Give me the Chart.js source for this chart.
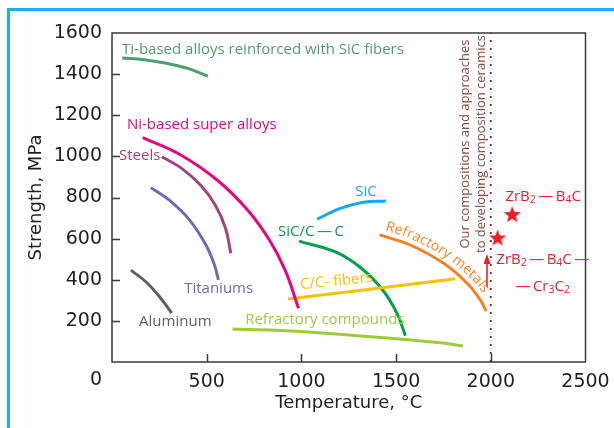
<!DOCTYPE html>
<html>
<head>
<meta charset="utf-8">
<script src="https://cdn.jsdelivr.net/npm/chart.js@4.4.1/dist/chart.umd.min.js"></script>
<style>
  html, body { margin: 0; padding: 0; background: #fff; }
  #wrap { position: relative; width: 614px; height: 428px; overflow: hidden; }
  #wrap canvas { position: absolute; left: 0; top: 0; }
  #frame {
    position: absolute; left: 7px; top: 8px; right: -10px; bottom: -10px;
    border-top: 3px solid #1cb0e6; border-left: 3px solid #1cb0e6;
    pointer-events: none;
  }
</style>
</head>
<body>
<div id="wrap">
  <canvas id="chart" width="614" height="428"></canvas>
  <div id="frame"></div>
</div>
<script>
// Axis ticks
const tempTicks = [0, 500, 1000, 1500, 2000, 2500];
const strengthTicks = [0, 200, 400, 600, 800, 1000, 1200, 1400, 1600];

// Strength (MPa) against temperature (°C) for each material class
const tiSicTemp = [54, 170, 280, 400, 506];
const tiSicStrength = [1478, 1470, 1454, 1428, 1391];

const niTemp = [162, 363, 555, 716, 831, 914, 985];
const niStrength = [1091, 1007, 885, 739, 593, 447, 261];

const steelTemp = [263, 366, 467, 545, 599, 627];
const steelStrength = [998, 943, 861, 764, 652, 529];

const titanTemp = [205, 301, 409, 496, 541, 562];
const titanStrength = [848, 788, 691, 569, 472, 399];

const aluTemp = [100, 180, 248, 315];
const aluStrength = [447, 389, 321, 238];

const refCompTemp = [636, 994, 1400, 1733, 1853];
const refCompStrength = [160, 148, 120, 94, 78];

const ccFiberTemp = [929, 1813];
const ccFiberStrength = [306, 405];

const sicCcTemp = [988, 1180, 1315, 1429, 1504, 1549];
const sicCcStrength = [588, 535, 457, 350, 238, 128];

const sicTemp = [1083, 1205, 1328, 1446];
const sicStrength = [695, 747, 777, 783];

const refMetTemp = [1413, 1575, 1751, 1875, 1945, 1975];
const refMetStrength = [618, 569, 480, 383, 301, 248];

// Proposed ZrB2-based ceramics
const zrbTemp = [2113, 2036];
const zrbStrength = [720, 606];

// Boundary of the composition-ceramics region and the arrow pointing into it
const boundaryTemp = [2000, 2000];
const boundaryStrength = [0, 1600];
const arrowTemp = [1980, 1980];
const arrowStrength = [365, 525];

const pts = (xs, ys) => xs.map((x, i) => ({ x, y: ys[i] }));

// filled five-point star used as the point marker
function makeStar(r, color) {
  const s = Math.ceil(r * 2 + 2);
  const c = document.createElement('canvas');
  c.width = s; c.height = s;
  const g = c.getContext('2d');
  g.fillStyle = color;
  g.beginPath();
  for (let i = 0; i < 10; i++) {
    const rad = i % 2 === 0 ? r : r * 0.42;
    const a = -Math.PI / 2 + i * Math.PI / 5;
    const px = s / 2 + rad * Math.cos(a), py = s / 2 + 1 + rad * Math.sin(a);
    i === 0 ? g.moveTo(px, py) : g.lineTo(px, py);
  }
  g.closePath();
  g.fill();
  return c;
}
const starImg = makeStar(9, '#ee1d25');

const curve = (label, xs, ys, color) => ({
  label, data: pts(xs, ys), borderColor: color, backgroundColor: color,
  borderWidth: 3, pointRadius: 0, tension: 0.4, fill: false
});

const datasets = [
  curve('Ti-based alloys reinforced with SiC fibers', tiSicTemp, tiSicStrength, '#4e9e71'),
  curve('Ni-based super alloys', niTemp, niStrength, '#e6057e'),
  curve('Steels', steelTemp, steelStrength, '#a3447f'),
  curve('Titaniums', titanTemp, titanStrength, '#6d6bb6'),
  curve('Aluminum', aluTemp, aluStrength, '#606060'),
  curve('Refractory compounds', refCompTemp, refCompStrength, '#9dcb3b'),
  curve('C/C- fibers', ccFiberTemp, ccFiberStrength, '#f8c20c'),
  curve('SiC/C-C', sicCcTemp, sicCcStrength, '#00a14e'),
  curve('SiC', sicTemp, sicStrength, '#16a9e4'),
  curve('Refractory metals', refMetTemp, refMetStrength, '#f5821f'),
  {
    label: 'boundary', data: pts(boundaryTemp, boundaryStrength),
    borderColor: '#4a4a4a', borderWidth: 2, borderDash: [2, 6], pointRadius: 0
  },
  {
    label: 'ZrB2', type: 'scatter', data: pts(zrbTemp, zrbStrength),
    pointStyle: starImg, pointRadius: 9, showLine: false
  }
];
const REF_METALS = 9;

const TEXT_FONT = '"Open Sans", "Noto Sans", sans-serif';
const AXIS_FONT = '"DejaVu Sans", sans-serif';
const DASH = '\u2009\u2014\u2009';

// annotation placement (data coordinates of the text anchor)
const notes = [
  { t: [['Ti-based alloys reinforced with SiC fibers']], x: 53, y: 1517, c: '#4e9e71' },
  { t: [['Ni-based super alloys']], x: 79, y: 1153, c: '#e6057e' },
  { t: [['Steels']], x: 37, y: 1002, c: '#a3447f' },
  { t: [['Titaniums']], x: 381, y: 355, c: '#6d6bb6' },
  { t: [['Aluminum']], x: 143, y: 195, c: '#606060' },
  { t: [['Refractory compounds']], x: 703, y: 204, c: '#9dcb3b' },
  { t: [['C/C- fibers']], x: 994, y: 374, c: '#f8c20c', rot: -6 },
  { t: [['SiC/C' + DASH + 'C']], x: 877, y: 632, c: '#00a14e' },
  { t: [['SiC']], x: 1284, y: 827, c: '#16a9e4' },
  { t: [['ZrB'], ['2', 1], [DASH + 'B'], ['4', 1], ['C']], x: 2077, y: 802, c: '#ee1d25' },
  { t: [['ZrB'], ['2', 1], [DASH + 'B'], ['4', 1], ['C' + DASH]], x: 2029, y: 496, c: '#ee1d25' },
  { t: [['\u2014\u2009Cr'], ['3', 1], ['C'], ['2', 1]], x: 2130, y: 365, c: '#ee1d25' }
];

function drawRich(ctx, parts, x, y, size) {
  let cx = x;
  for (const [s, sub] of parts) {
    ctx.font = (sub ? size * 0.7 : size) + 'px ' + TEXT_FONT;
    ctx.fillText(s, cx, y + (sub ? size * 0.22 : 0));
    cx += ctx.measureText(s).width;
  }
}

// dense Catmull-Rom samples through pixel points
function densify(p) {
  const out = [];
  for (let i = 0; i < p.length - 1; i++) {
    const p0 = p[Math.max(i - 1, 0)], p1 = p[i], p2 = p[i + 1], p3 = p[Math.min(i + 2, p.length - 1)];
    for (let k = 0; k < 20; k++) {
      const t = k / 20, t2 = t * t, t3 = t2 * t;
      const f = (a, b, c, d) => 0.5 * (2 * b + (-a + c) * t + (2 * a - 5 * b + 4 * c - d) * t2 + (-a + 3 * b - 3 * c + d) * t3);
      out.push({ x: f(p0.x, p1.x, p2.x, p3.x), y: f(p0.y, p1.y, p2.y, p3.y) });
    }
  }
  out.push(p[p.length - 1]);
  return out;
}

function textOnPath(ctx, text, path, start, offset) {
  const seg = [0];
  for (let i = 1; i < path.length; i++) seg.push(seg[i - 1] + Math.hypot(path[i].x - path[i - 1].x, path[i].y - path[i - 1].y));
  const at = s => {
    let i = 1;
    while (i < path.length - 1 && seg[i] < s) i++;
    const a = path[i - 1], b = path[i];
    const L = seg[i] - seg[i - 1] || 1, u = (s - seg[i - 1]) / L;
    const tx = (b.x - a.x) / L, ty = (b.y - a.y) / L;
    return { x: a.x + (b.x - a.x) * u, y: a.y + (b.y - a.y) * u, tx, ty };
  };
  let s = start;
  for (const ch of text) {
    const w = ctx.measureText(ch).width;
    const p = at(s + w / 2);
    ctx.save();
    ctx.translate(p.x + p.ty * offset, p.y - p.tx * offset);
    ctx.rotate(Math.atan2(p.ty, p.tx));
    ctx.fillText(ch, -w / 2, 0);
    ctx.restore();
    s += w;
  }
}

const decor = {
  id: 'decor',
  afterDatasetsDraw(chart) {
    const { ctx, chartArea: a, scales: { x, y } } = chart;
    ctx.save();
    // plot frame
    ctx.strokeStyle = '#3a3a3a';
    ctx.lineWidth = 1.5;
    ctx.strokeRect(a.left, a.top, a.right - a.left, a.bottom - a.top);
    // inward tick marks
    ctx.beginPath();
    tempTicks.slice(1, -1).forEach(v => {
      const px = Math.round(x.getPixelForValue(v)) + 0.5;
      ctx.moveTo(px, a.bottom); ctx.lineTo(px, a.bottom - 8);
    });
    strengthTicks.slice(1, -1).forEach(v => {
      const py = Math.round(y.getPixelForValue(v)) + 0.5;
      ctx.moveTo(a.left, py); ctx.lineTo(a.left + 8, py);
    });
    ctx.stroke();

    // origin label shared by both axes
    ctx.fillStyle = '#231f20';
    ctx.font = '19px ' + AXIS_FONT;
    ctx.textAlign = 'center';
    ctx.textBaseline = 'middle';
    ctx.fillText('0', a.left - 16, a.bottom + 18);

    // material labels
    ctx.textAlign = 'left';
    ctx.textBaseline = 'middle';
    for (const n of notes) {
      ctx.fillStyle = n.c;
      const px = x.getPixelForValue(n.x), py = y.getPixelForValue(n.y);
      ctx.save();
      ctx.translate(px, py);
      if (n.rot) ctx.rotate(n.rot * Math.PI / 180);
      drawRich(ctx, n.t, 0, 0, 15);
      ctx.restore();
    }

    // rotated note beside the boundary
    ctx.fillStyle = '#8c4a3b';
    ctx.font = '13px ' + TEXT_FONT;
    ctx.textAlign = 'center';
    const ny = y.getPixelForValue(1060);
    [['Our compositions and approaches', 1866], ['to developing composition ceramics', 1950]].forEach(([s, v]) => {
      ctx.save();
      ctx.translate(x.getPixelForValue(v), ny);
      ctx.rotate(-Math.PI / 2);
      ctx.fillText(s, 0, 0);
      ctx.restore();
    });

    // arrow into the ceramics region
    const ax = x.getPixelForValue(arrowTemp[0]);
    const ay0 = y.getPixelForValue(arrowStrength[0]), ay1 = y.getPixelForValue(arrowStrength[1]);
    ctx.strokeStyle = '#ee1d25';
    ctx.fillStyle = '#ee1d25';
    ctx.lineWidth = 1.6;
    ctx.beginPath(); ctx.moveTo(ax, ay0); ctx.lineTo(ax, ay1 + 8); ctx.stroke();
    ctx.beginPath(); ctx.moveTo(ax, ay1); ctx.lineTo(ax - 3.5, ay1 + 10); ctx.lineTo(ax + 3.5, ay1 + 10); ctx.closePath(); ctx.fill();

    // label following the refractory-metals curve
    const meta = chart.getDatasetMeta(REF_METALS);
    const path = densify(meta.data.map(e => ({ x: e.x, y: e.y })));
    ctx.fillStyle = '#f5821f';
    ctx.font = '14px ' + TEXT_FONT;
    ctx.textAlign = 'left';
    ctx.textBaseline = 'alphabetic';
    textOnPath(ctx, 'Refractory metals', path, 4, 6);
    ctx.restore();
  }
};

new Chart(document.getElementById('chart'), {
  type: 'line',
  data: { datasets },
  options: {
    responsive: false,
    animation: false,
    devicePixelRatio: 1,
    layout: { padding: { left: 0, top: 33, right: 28.5, bottom: 0 } },
    plugins: { legend: { display: false }, tooltip: { enabled: false } },
    scales: {
      x: {
        type: 'linear', min: 0, max: 2500,
        afterBuildTicks: s => { s.ticks = tempTicks.map(v => ({ value: v })); },
        afterFit: s => { s.height = 66; s.paddingLeft = 0; s.paddingRight = 0; },
        grid: { display: false, drawTicks: false },
        border: { display: false },
        ticks: {
          padding: 9, color: '#231f20', font: { family: AXIS_FONT, size: 19 },
          callback: v => (v === 0 ? '' : String(v)), maxRotation: 0, autoSkip: false
        },
        title: {
          display: true, text: 'Temperature, \u00b0C', color: '#231f20',
          font: { family: AXIS_FONT, size: 18 }, padding: { top: 0, bottom: 14 }
        }
      },
      y: {
        type: 'linear', min: 0, max: 1600,
        afterBuildTicks: s => { s.ticks = strengthTicks.map(v => ({ value: v })); },
        afterFit: s => { s.width = 112; s.paddingTop = 0; s.paddingBottom = 0; },
        grid: { display: false, drawTicks: false },
        border: { display: false },
        ticks: {
          padding: 10, color: '#231f20', font: { family: AXIS_FONT, size: 19 },
          callback: v => (v === 0 ? '' : String(v)), autoSkip: false
        },
        title: {
          display: true, text: 'Strength, MPa', color: '#231f20',
          font: { family: AXIS_FONT, size: 18 }, padding: { top: 26, bottom: 0 }
        }
      }
    }
  },
  plugins: [decor]
});
</script>
</body>
</html>
